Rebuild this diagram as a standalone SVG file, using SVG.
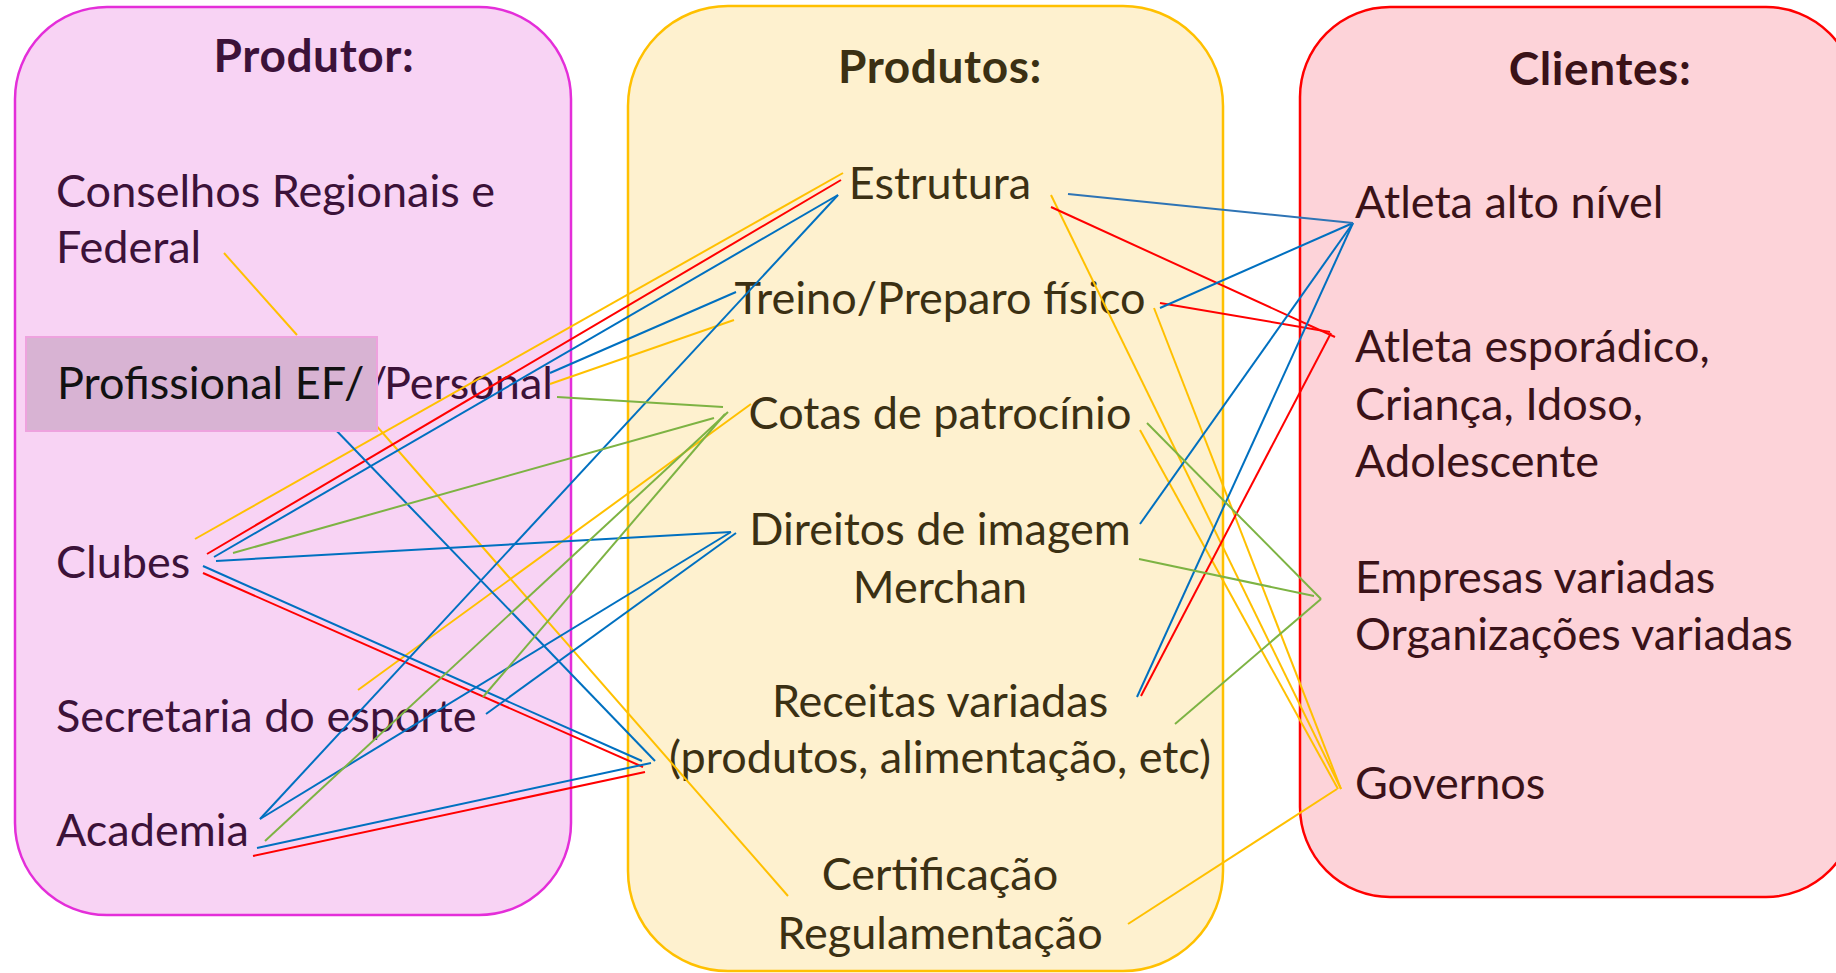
<svg xmlns="http://www.w3.org/2000/svg" width="1836" height="973" viewBox="0 0 1836 973">
<style>
.t{font-family:Lato,"Liberation Sans",sans-serif;font-size:45px}
.h{font-family:Lato,"Liberation Sans",sans-serif;font-size:46px;font-weight:bold;letter-spacing:0.6px}
.p1{fill:#3C1239}.p2{fill:#3B3013}.p3{fill:#3A1218}
.m{text-anchor:middle}
.c line{fill:none;stroke-width:2}
.y{stroke:#FFC000}.r{stroke:#FF0000}.b{stroke:#0070C0}.g{stroke:#7DB343}.tb{stroke:#2E74B5}
</style>
<rect width="1836" height="973" fill="#FFFFFF"/>
<g id="produtor">
<rect x="15" y="7" width="556" height="908" rx="92" ry="92" fill="#F8D3F4" stroke="#E42ED9" stroke-width="2.5"/>
<text class="h p1 m" x="314" y="72">Produtor:</text>
<text class="t p1" x="56" y="207">Conselhos Regionais e</text>
<text class="t p1" x="56" y="263">Federal</text>
<text class="t p1" x="367" y="399">/<tspan x="384">Personal</tspan></text>
<text class="t p1" x="56" y="578">Clubes</text>
<text class="t p1" x="56" y="732">Secretaria do esporte</text>
<text class="t p1" x="56" y="846">Academia</text>
</g>
<g id="produtos">
<rect x="628" y="6" width="595" height="965" rx="100" ry="100" fill="#FEF1CF" stroke="#FFC000" stroke-width="2.5"/>
<text class="h p2 m" x="940" y="83">Produtos:</text>
<text class="t p2 m" x="940" y="199">Estrutura</text>
<text class="t p2 m" x="940" y="314">Treino/Preparo físico</text>
<text class="t p2 m" x="940" y="429">Cotas de patrocínio</text>
<text class="t p2 m" x="940" y="545">Direitos de imagem</text>
<text class="t p2 m" x="940" y="603">Merchan</text>
<text class="t p2 m" x="940" y="717">Receitas variadas</text>
<text class="t p2 m" x="940" y="773">(produtos, alimentação, etc)</text>
<text class="t p2 m" x="940" y="890">Certificação</text>
<text class="t p2 m" x="940" y="949">Regulamentação</text>
</g>
<g id="clientes">
<rect x="1300" y="7" width="556" height="890" rx="90" ry="90" fill="#FDD3D9" stroke="#FF0000" stroke-width="2.5"/>
<text class="h p3 m" x="1600" y="85">Clientes:</text>
<text class="t p3" x="1355" y="218">Atleta alto nível</text>
<text class="t p3" x="1355" y="362">Atleta esporádico,</text>
<text class="t p3" x="1355" y="420">Criança, Idoso,</text>
<text class="t p3" x="1355" y="477">Adolescente</text>
<text class="t p3" x="1355" y="593">Empresas variadas</text>
<text class="t p3" x="1355" y="650">Organizações variadas</text>
<text class="t p3" x="1355" y="799">Governos</text>
</g>
<g id="connectors" class="c">
<line class="y" x1="224" y1="253" x2="297" y2="335"/>
<line class="y" x1="374" y1="423" x2="788" y2="896"/>
<line class="y" x1="195" y1="539" x2="843" y2="173"/>
<line class="y" x1="550" y1="384" x2="734" y2="320"/>
<line class="y" x1="358" y1="690" x2="751" y2="404"/>
<line class="y" x1="1051" y1="195" x2="1341" y2="789"/>
<line class="y" x1="1154" y1="308" x2="1341" y2="789"/>
<line class="y" x1="1140" y1="430" x2="1338" y2="789"/>
<line class="y" x1="1128" y1="924" x2="1337" y2="789"/>
<line class="r" x1="207" y1="554" x2="841" y2="180"/>
<line class="r" x1="203" y1="573" x2="643" y2="767"/>
<line class="r" x1="253" y1="856" x2="645" y2="772"/>
<line class="r" x1="1051" y1="207" x2="1335" y2="337"/>
<line class="r" x1="1160" y1="303" x2="1330" y2="332"/>
<line class="r" x1="1141" y1="696" x2="1331" y2="333"/>
<line class="b" x1="332" y1="426" x2="655" y2="761"/>
<line class="b" x1="550" y1="373" x2="736" y2="292"/>
<line class="b" x1="214" y1="557" x2="838" y2="195"/>
<line class="b" x1="216" y1="561" x2="731" y2="532"/>
<line class="b" x1="203" y1="566" x2="642" y2="761"/>
<line class="b" x1="486" y1="714" x2="736" y2="533"/>
<line class="b" x1="260" y1="819" x2="838" y2="195"/>
<line class="b" x1="260" y1="819" x2="731" y2="532"/>
<line class="b" x1="257" y1="848" x2="651" y2="763"/>
<line class="b" x1="1160" y1="308" x2="1353" y2="223"/>
<line class="b" x1="1140" y1="524" x2="1353" y2="223"/>
<line class="b" x1="1137" y1="697" x2="1353" y2="223"/>
<line class="tb" x1="1068" y1="194" x2="1353" y2="223"/>
<line class="g" x1="557" y1="397" x2="723" y2="407"/>
<line class="g" x1="233" y1="553" x2="714" y2="418"/>
<line class="g" x1="483" y1="697" x2="725" y2="414"/>
<line class="g" x1="265" y1="841" x2="728" y2="412"/>
<line class="g" x1="1147" y1="423" x2="1321" y2="599"/>
<line class="g" x1="1139" y1="559" x2="1314" y2="596"/>
<line class="g" x1="1175" y1="724" x2="1321" y2="599"/>
</g>
<g id="profissional">
<rect x="26" y="337" width="351" height="94" fill="#D8B3D3" stroke="#EEA2DE" stroke-width="2"/>
<text class="t" x="57" y="399" fill="#111111">Profissional EF/</text>
</g>
</svg>
